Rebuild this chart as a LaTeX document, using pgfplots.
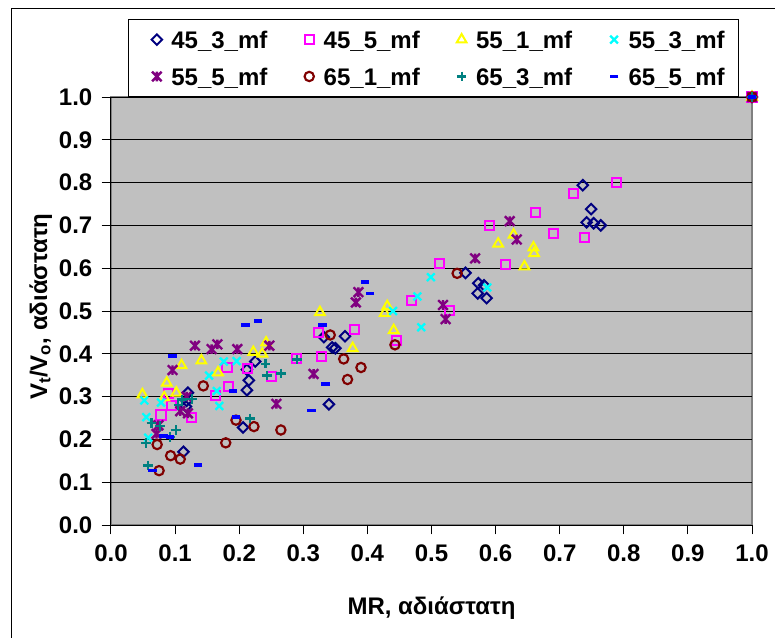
\documentclass[border=0pt]{standalone}
\usepackage{pgfplots}
\pgfplotsset{compat=1.18}
\usepackage{fontspec}
\setmainfont{Liberation Sans}
\usetikzlibrary{plotmarks}

\definecolor{plotbg}{HTML}{C0C0C0}
\definecolor{framegray}{HTML}{808080}
\definecolor{sA}{HTML}{000080}
\definecolor{sB}{HTML}{FF00FF}
\definecolor{sC}{HTML}{FFFF00}
\definecolor{sD}{HTML}{00FFFF}
\definecolor{sE}{HTML}{800080}
\definecolor{sF}{HTML}{800000}
\definecolor{sG}{HTML}{008080}
\definecolor{sH}{HTML}{0000FF}

% Excel-like star marker: an x with a vertical stroke through it
\pgfdeclareplotmark{xstar}{%
  \pgfpathmoveto{\pgfqpoint{-\pgfplotmarksize}{-\pgfplotmarksize}}%
  \pgfpathlineto{\pgfqpoint{\pgfplotmarksize}{\pgfplotmarksize}}%
  \pgfpathmoveto{\pgfqpoint{-\pgfplotmarksize}{\pgfplotmarksize}}%
  \pgfpathlineto{\pgfqpoint{\pgfplotmarksize}{-\pgfplotmarksize}}%
  \pgfpathmoveto{\pgfqpoint{0pt}{-\pgfplotmarksize}}%
  \pgfpathlineto{\pgfqpoint{0pt}{\pgfplotmarksize}}%
  \pgfusepathqstroke}

\newcommand{\chartfont}{\fontsize{18pt}{21pt}\selectfont\bfseries}
\newcommand{\legendfont}{\fontsize{18pt}{21pt}\selectfont\bfseries}

\begin{document}
\begin{tikzpicture}
% page frame
\useasboundingbox (0,0) rectangle (581.25pt,477.75pt);
\begin{scope}
  \clip (0,0) rectangle (581.25pt,477.75pt);
  \draw[black, line width=0.75pt] (8.25pt,-20pt) rectangle (600pt,471pt);
\end{scope}
\begin{axis}[
  at={(83.25pt,84pt)}, anchor=south west,
  scale only axis, width=480.75pt, height=321pt,
  xmin=0, xmax=1, ymin=0, ymax=1,
  xtick={0,0.1,...,1.0}, ytick={0,0.1,...,1.0},
  clip=false,
  axis background/.style={fill=plotbg, draw=framegray, line width=1.5pt},
  axis x line*=bottom, axis y line*=left,
  x axis line style={-, black, line width=0.75pt},
  y axis line style={-, black, line width=0.75pt},
  tick align=outside, major tick length=7pt,
  tick style={black, line width=0.75pt},
  ymajorgrids, major grid style={black, line width=0.75pt},
  /pgf/number format/assume math mode=true,
  /pgf/number format/.cd, fixed, fixed zerofill, precision=1, /pgfplots/.cd,
  tick label style={font=\chartfont},
  xticklabel style={yshift=-4pt},
  yticklabel style={xshift=-3.5pt},
  xlabel={MR, αδιάστατη},
  ylabel={V\textsubscript{t}/V\textsubscript{o}, αδιάστατη},
  label style={font=\chartfont},
  xlabel style={at={(axis description cs:0.5,-0.209)}, anchor=base},
  ylabel style={at={(axis description cs:-0.0998,0.51)}, anchor=base, rotate=0},
  legend columns=4,
  legend style={
    at={(axis description cs:0.0273,1)}, anchor=south west,
    draw=black, line width=0.75pt, fill=white,
    font=\legendfont,
    inner xsep=10.5pt, inner ysep=8.5pt,
    row sep=14.6pt,
    nodes={inner xsep=0pt, inner ysep=0pt, text depth=0pt},
    /tikz/every odd column/.style={column sep=5.5pt},
    /tikz/every even column/.style={column sep=21pt},
  },
  legend image code/.code={%
    \path (-10pt,0pt) (5pt,0pt);
    \draw[#1] plot coordinates {(0pt,0pt)};},
  legend cell align=left,
]
\addplot[only marks, mark=square, mark size=2.8pt,
  mark options={rotate=45, draw=sA, line width=1.5pt}]
  coordinates {(0.736,0.794)(0.749,0.738)(0.742,0.707)(0.753,0.705)(0.764,0.700)
  (0.553,0.589)(0.573,0.565)(0.582,0.560)(0.572,0.541)(0.586,0.530)
  (0.365,0.441)(0.332,0.439)(0.345,0.415)(0.350,0.413)(0.340,0.282)
  (0.225,0.382)(0.212,0.363)(0.215,0.338)(0.212,0.315)(0.206,0.228)
  (0.120,0.309)(0.118,0.290)(0.117,0.277)(0.113,0.171)(1,1)};
\addlegendentry{45\_3\_mf}
\addplot[only marks, mark=square, mark size=3.4pt,
  mark options={draw=sB, line width=1.5pt}]
  coordinates {(0.788,0.801)(0.721,0.775)(0.662,0.731)(0.590,0.700)(0.690,0.680)
  (0.738,0.671)(0.616,0.609)(0.513,0.612)(0.469,0.524)(0.528,0.501)
  (0.446,0.431)(0.380,0.457)(0.324,0.450)(0.328,0.393)(0.289,0.388)
  (0.251,0.346)(0.213,0.365)(0.181,0.368)(0.183,0.323)(0.163,0.302)
  (0.126,0.251)(0.089,0.308)(0.094,0.279)(0.078,0.257)(1,1)};
\addlegendentry{45\_5\_mf}
\addplot[only marks, mark=triangle, mark size=4.2pt,
  mark options={draw=sC, line width=1.5pt}]
  coordinates {(0.628,0.678)(0.604,0.657)(0.659,0.648)(0.660,0.635)(0.645,0.604)
  (0.431,0.511)(0.427,0.495)(0.441,0.455)(0.377,0.413)(0.326,0.497)
  (0.242,0.426)(0.236,0.400)(0.222,0.404)(0.141,0.384)(0.110,0.373)
  (0.167,0.356)(0.087,0.332)(0.102,0.309)(0.083,0.298)(0.049,0.305)(1,1)};
\addlegendentry{55\_1\_mf}
\addplot[only marks, mark=x, mark size=4.1pt,
  mark options={draw=sD, line width=1.7pt}]
  coordinates {(0.587,0.555)(0.499,0.579)(0.478,0.534)(0.440,0.500)(0.484,0.462)
  (0.196,0.383)(0.176,0.382)(0.153,0.349)(0.165,0.313)(0.169,0.278)
  (0.078,0.286)(0.052,0.291)(0.055,0.252)(0.058,0.204)(1,1)};
\addlegendentry{55\_3\_mf}
\addplot[only marks, mark=xstar, mark size=3.6pt,
  mark options={draw=sE, line width=1.8pt}]
  coordinates {(0.622,0.710)(0.633,0.667)(0.568,0.623)(0.518,0.514)(0.522,0.481)
  (0.386,0.544)(0.382,0.520)(0.316,0.353)(0.258,0.283)(0.247,0.419)
  (0.197,0.411)(0.166,0.422)(0.157,0.411)(0.131,0.419)(0.096,0.362)
  (0.108,0.266)(0.120,0.261)(0.118,0.300)(0.074,0.233)(0.071,0.213)(1,1)};
\addlegendentry{55\_5\_mf}
\addplot[only marks, mark=o, mark size=3.5pt,
  mark options={draw=sF, line width=1.6pt}]
  coordinates {(0.540,0.588)(0.342,0.444)(0.443,0.421)(0.363,0.388)(0.390,0.368)
  (0.369,0.340)(0.144,0.325)(0.265,0.222)(0.223,0.230)(0.195,0.245)
  (0.179,0.192)(0.072,0.188)(0.093,0.162)(0.108,0.154)(0.075,0.127)(1,1)};
\addlegendentry{65\_1\_mf}
\addplot[only marks, mark=+, mark size=3.6pt,
  mark options={draw=sG, line width=1.7pt}]
  coordinates {(0.290,0.387)(0.241,0.377)(0.265,0.354)(0.243,0.349)(0.217,0.249)
  (0.111,0.293)(0.126,0.294)(0.105,0.280)(0.063,0.238)(0.076,0.231)
  (0.101,0.222)(0.092,0.206)(0.055,0.192)(0.058,0.139)(1,1)};
\addlegendentry{65\_3\_mf}
\addplot[only marks, mark=-, mark size=3.2pt,
  mark options={draw=sH, line width=2.6pt}]
  coordinates {(0.396,0.568)(0.404,0.541)(0.210,0.467)(0.229,0.477)(0.330,0.467)
  (0.335,0.329)(0.313,0.267)(0.096,0.395)(0.190,0.313)(0.195,0.252)
  (0.082,0.208)(0.092,0.206)(0.136,0.140)(0.065,0.127)(1,1)};
\addlegendentry{65\_5\_mf}
\end{axis}
\end{tikzpicture}
\end{document}
